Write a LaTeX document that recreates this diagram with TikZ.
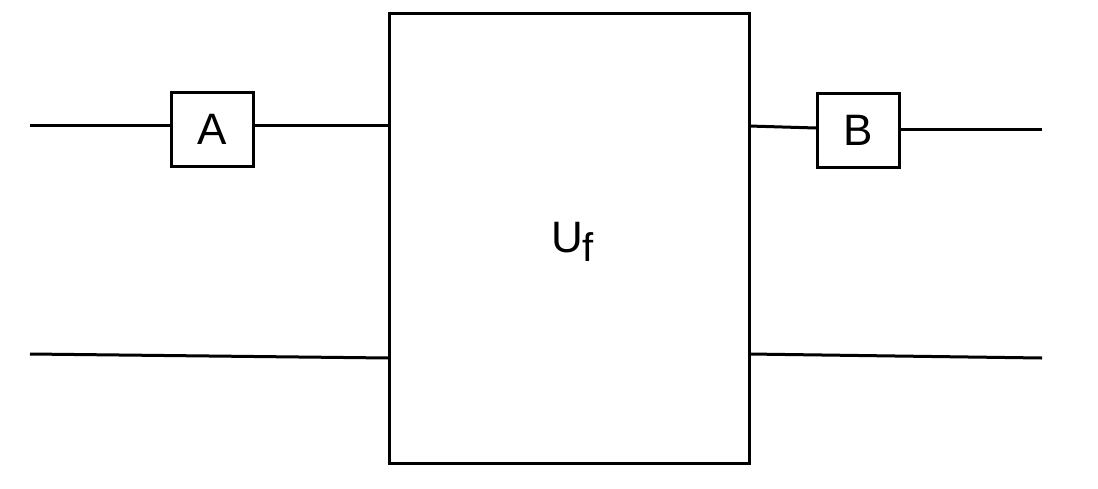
\documentclass[tikz,border=0pt]{standalone}
\usepackage{fontspec}
\setmainfont{Liberation Sans}
\begin{document}
\begin{tikzpicture}[x=1pt,y=-1pt,
  wire/.style={line width=3pt},
  gatebox/.style={draw,line width=3pt,minimum width=82pt,minimum height=74pt,inner sep=0pt,font=\fontsize{44}{44}\selectfont},
  bigbox/.style={draw,line width=3pt,minimum width=360pt,minimum height=450pt,inner sep=0pt}]
\useasboundingbox (0,0) rectangle (1098,488);
\node[bigbox] (U) at (569,238) {};
\node[font=\fontsize{44}{44}\selectfont,anchor=base west,inner sep=0pt] (Ulab) at (551,252) {U\raisebox{-9pt}{\fontsize{40}{40}\selectfont f}};
\node[gatebox] (A) at (212.5,129.5) {A};
\node[gatebox] (B) at (858,130) {B};
\coordinate (a0) at (30,125.5);
\coordinate (b1) at (1042,129);
\coordinate (c0) at (30,354);
\coordinate (c1) at (1042,358);
\draw[wire] (a0) -- (a0 -| A.west);
\draw[wire] (A.east |- a0) -- (a0 -| U.west);
\draw[wire] (749,126) -- (816,128);
\draw[wire] (B.east |- b1) -- (b1);
\draw[wire] (c0) -- (389,358);
\draw[wire] (749,354) -- (c1);
\end{tikzpicture}
\end{document}
